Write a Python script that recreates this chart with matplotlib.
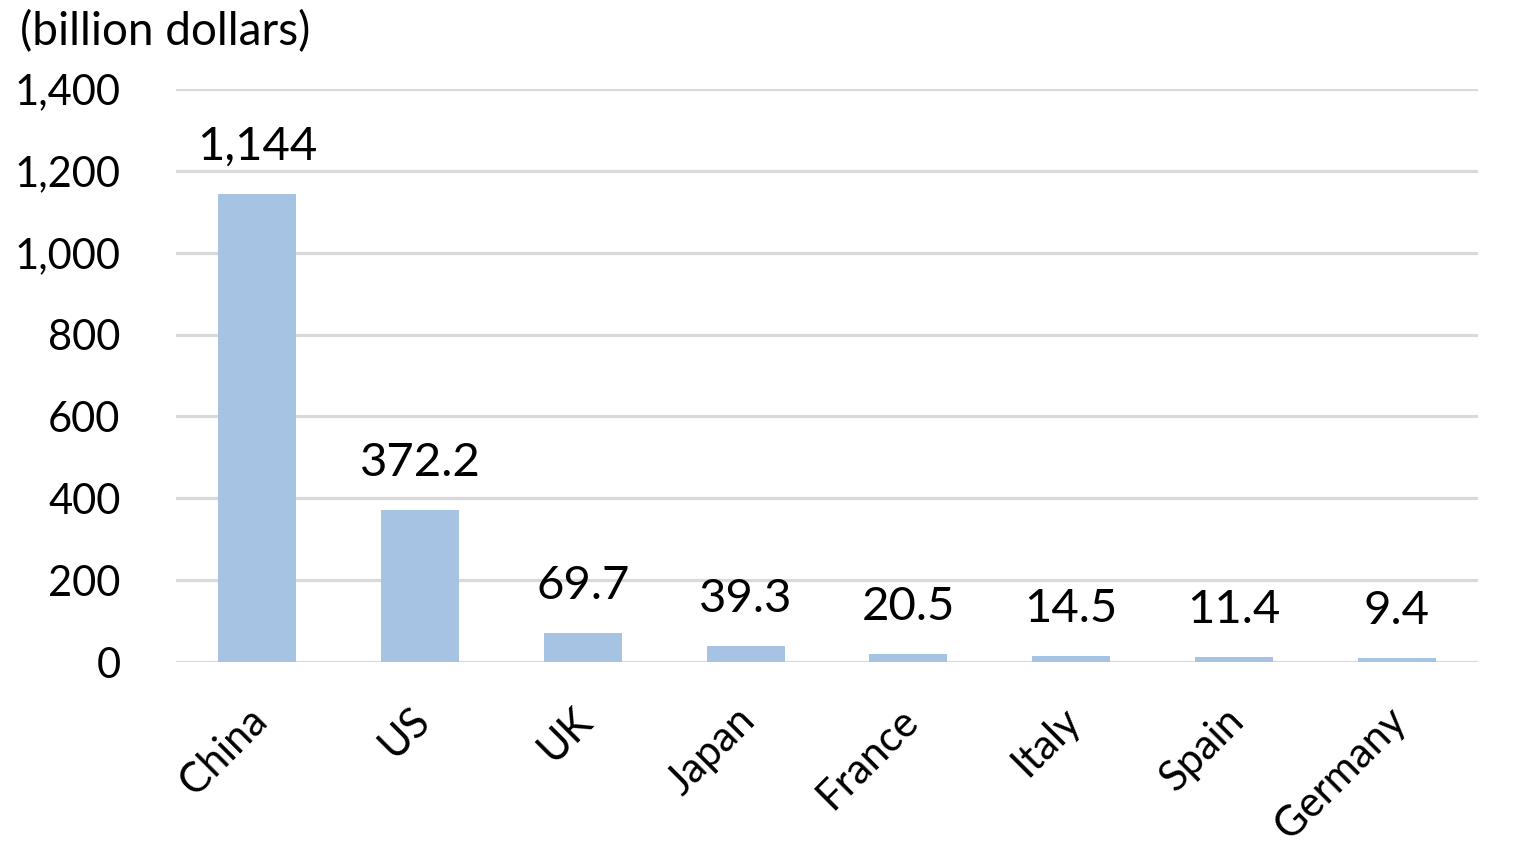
import matplotlib.pyplot as plt
from matplotlib.transforms import ScaledTranslation

countries = ["China", "US", "UK", "Japan", "France", "Italy", "Spain", "Germany"]
values = [1144, 372.2, 69.7, 39.3, 20.5, 14.5, 11.4, 9.4]
value_labels = ["1,144", "372.2", "69.7", "39.3", "20.5", "14.5", "11.4", "9.4"]
yticks = [0, 200, 400, 600, 800, 1000, 1200, 1400]

plt.rcParams['font.family'] = ['Lato', 'DejaVu Sans']

fig = plt.figure(figsize=(15.16, 8.5), dpi=100)
ax = fig.add_axes([176 / 1516, 188 / 850, 1302 / 1516, 573 / 850])

x = range(len(countries))
ax.bar(x, values, width=0.48, color='#a7c3e3', zorder=3)

for i, (v, lab) in enumerate(zip(values, value_labels)):
    ax.annotate(lab, (i, v), xytext=(0, 34), textcoords='offset pixels',
                ha='center', va='baseline', fontsize=34, color='black')

ax.set_xlim(-0.5, len(countries) - 0.5)
ax.set_ylim(0, 1400)
ax.set_yticks(yticks)
ax.set_yticklabels([f"{t:,}" for t in yticks], fontsize=30)
ax.yaxis.grid(True, color='#d9d9d9', linewidth=2.3, zorder=0)
ax.set_axisbelow(True)
ax.tick_params(axis='y', length=0, pad=40)

ax.set_xticks(list(x))
ax.set_xticklabels(countries, fontsize=30, rotation=45, ha='right', rotation_mode='anchor')
ax.tick_params(axis='x', length=0, pad=28)
# nudge category labels a little to the left
shift = ScaledTranslation(-10 / 100, 0, fig.dpi_scale_trans)
for t in ax.get_xticklabels():
    t.set_transform(t.get_transform() + shift)

for s in ax.spines.values():
    s.set_visible(False)

fig.text(20 / 1516, 1 - 10 / 850, "(billion dollars)", fontsize=33, va='top', ha='left')

fig.savefig("out.png", dpi=100)
